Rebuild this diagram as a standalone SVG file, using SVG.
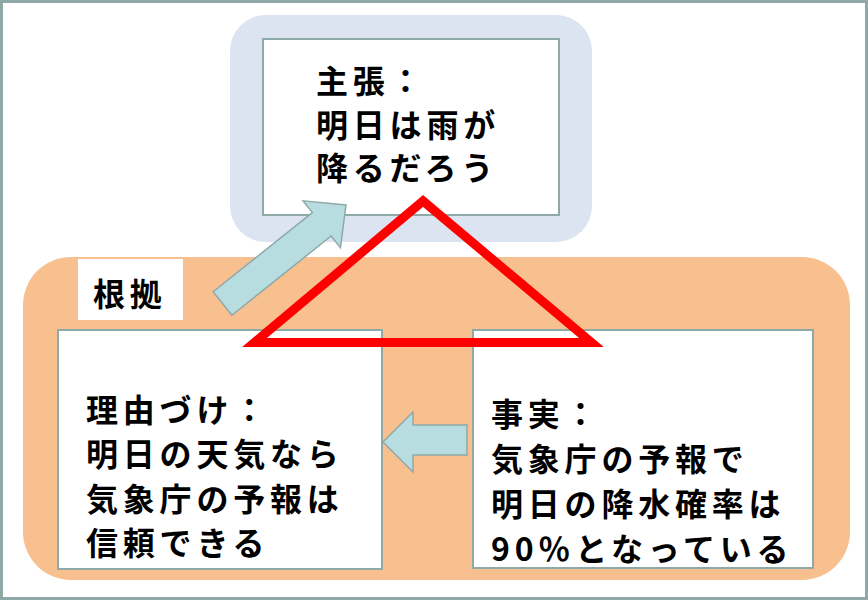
<svg xmlns="http://www.w3.org/2000/svg" width="868" height="600" viewBox="0 0 868 600">
<style>
.box{fill:#ffffff;stroke:#8fa9a9;stroke-width:2}
.t{font-family:"Noto Sans CJK JP","Noto Sans CJK SC",sans-serif;font-weight:700;font-size:32px;letter-spacing:4.8px;fill:#000}
.arrow{fill:#b8dde0;stroke:#8fa9a9;stroke-width:1.5;stroke-linejoin:miter}
</style>
<rect x="0" y="0" width="868" height="600" fill="#ffffff"/>
<g id="claim-group">
<rect x="230" y="15" width="362" height="227" rx="36" fill="#dbe4f0"/>
</g>
<g id="claim">
<rect class="box" x="263" y="39" width="296" height="176"/>
<text class="t" x="316" y="93">主張：</text>
<text class="t" x="316" y="137">明日は雨が</text>
<text class="t" x="316" y="180">降るだろう</text>
</g>
<g id="grounds">
<rect x="23" y="257" width="827" height="323" rx="48" fill="#f8c08f"/>
<rect x="78" y="259" width="105" height="61" fill="#ffffff"/>
<text class="t" x="93" y="306">根拠</text>
</g>
<g id="warrant">
<rect class="box" x="58" y="330" width="324" height="239"/>
<text class="t" x="86" y="422">理由づけ：</text>
<text class="t" x="86" y="466">明日の天気なら</text>
<text class="t" x="86" y="511">気象庁の予報は</text>
<text class="t" x="86" y="555">信頼できる</text>
</g>
<g id="fact">
<rect class="box" x="473" y="330" width="340" height="238"/>
<text class="t" x="491" y="426">事実：</text>
<text class="t" x="491" y="471">気象庁の予報で</text>
<text class="t" x="491" y="516">明日の降水確率は</text>
<text class="t" x="491" y="561">90％となっている</text>
</g>
<g id="connectors">
<polygon class="arrow" transform="translate(222.5,303.5) rotate(-38.6)" points="0,-15 127,-15 127,-30 158,0 127,30 127,15 0,15"/>
<polygon class="arrow" points="467,425 413,425 413,412 383,442 413,472 413,455 467,455"/>
<polygon points="423,201 254.5,342.5 591.5,342.5" fill="none" stroke="#ff0000" stroke-width="9" stroke-linejoin="miter"/>
</g>
<rect x="1.5" y="1.5" width="865" height="597" fill="none" stroke="#8fa9a9" stroke-width="3"/>
</svg>
